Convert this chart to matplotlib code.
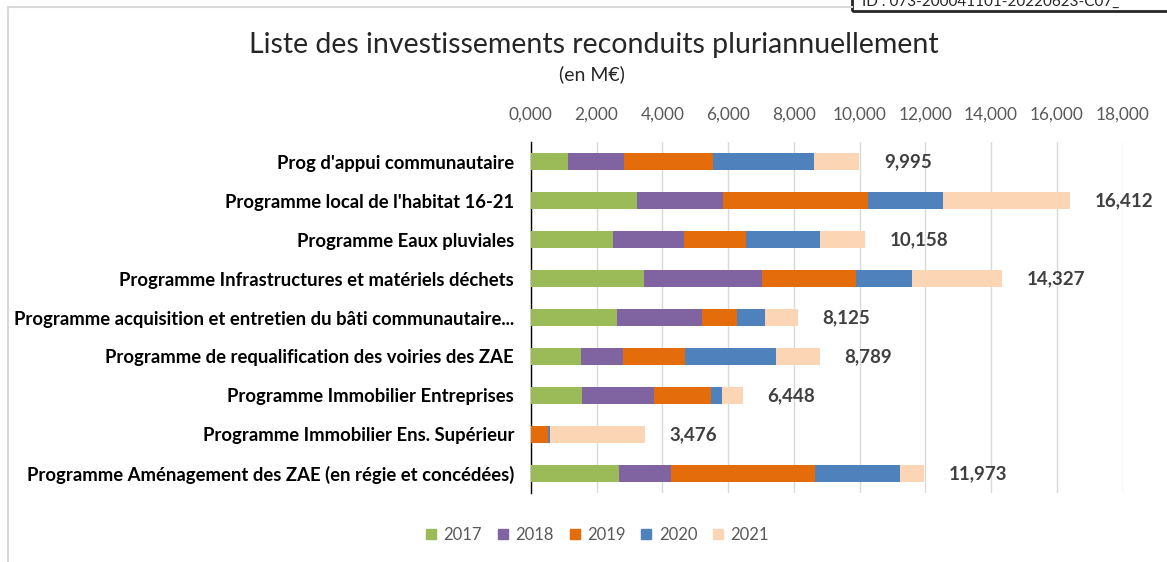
import numpy as np
import matplotlib.pyplot as plt
from matplotlib.lines import Line2D
from matplotlib.patches import Rectangle
from matplotlib.ticker import FuncFormatter

plt.rcParams['font.family'] = ['Lato', 'DejaVu Sans']

# Data (M€)
programmes = ["Prog d'appui communautaire",
              "Programme local de l'habitat 16-21",
              "Programme Eaux pluviales",
              "Programme Infrastructures et matériels déchets",
              "Programme acquisition et entretien du bâti communautaire...",
              "Programme de requalification des voiries des ZAE",
              "Programme Immobilier Entreprises",
              "Programme Immobilier Ens. Supérieur",
              "Programme Aménagement des ZAE (en régie et concédées)"]
years = ['2017', '2018', '2019', '2020', '2021']
v2017 = [1.130, 3.222, 2.500, 3.431, 2.617, 1.535, 1.570, 0.000, 2.687]
v2018 = [1.700, 2.640, 2.152, 3.617, 2.605, 1.256, 2.175, 0.000, 1.581]
v2019 = [2.700, 4.408, 1.884, 2.838, 1.047, 1.908, 1.733, 0.535, 4.373]
v2020 = [3.080, 2.280, 2.268, 1.697, 0.860, 2.756, 0.349, 0.047, 2.594]
v2021 = [1.385, 3.862, 1.354, 2.744, 0.996, 1.334, 0.621, 2.894, 0.738]
totals = [9.995, 16.412, 10.158, 14.327, 8.125, 8.789, 6.448, 3.476, 11.973]
colors = ['#9BBB59', '#8064A2', '#E46C0A', '#4F81BD', '#FCD5B5']

fig = plt.figure(figsize=(11.67, 5.62), dpi=100)
ax = fig.add_axes([0.4548, 0.1228, 0.5071, 0.6245])

ypos = np.arange(len(programmes))
left = np.zeros(len(programmes))
for year, vals, col in zip(years, [v2017, v2018, v2019, v2020, v2021], colors):
	ax.barh(ypos, vals, left=left, height=0.43, color=col, label=year, linewidth=0, zorder=3)
	left += np.array(vals)

for y, t in zip(ypos, totals):
	ax.text(t + 0.75, y, '{:.3f}'.format(t).replace('.', ','), va='center', ha='left',
	        fontsize=13.5, fontweight='bold', color='#404040', zorder=4)

ax.set_xlim(0, 18)
ax.set_ylim(len(programmes) - 0.5, -0.5)
ax.set_xticks(np.arange(0, 18.1, 2))
ax.xaxis.set_major_formatter(FuncFormatter(lambda v, p: '{:.3f}'.format(v).replace('.', ',')))
ax.xaxis.tick_top()
ax.tick_params(axis='x', length=0, labelsize=12.4, labelcolor='#595959', pad=14)
ax.set_yticks(ypos)
ax.set_yticklabels(programmes, fontsize=13.3, fontweight='bold', color='black')
ax.tick_params(axis='y', length=0, pad=12)
ax.grid(axis='x', color='#D9D9D9', linewidth=1, zorder=0)
for s in ['top', 'right', 'bottom']:
	ax.spines[s].set_visible(False)
ax.spines['left'].set_color('black')
ax.spines['left'].set_linewidth(1)

fig.text(0.509, 0.92, 'Liste des investissements reconduits pluriannuellement',
         ha='center', va='center', fontsize=20.5, color='#262626')
fig.text(0.507, 0.868, '(en M€)', ha='center', va='center', fontsize=14, color='#262626')

handles = [Rectangle((0, 0), 1, 1, color=c) for c in colors]
fig.legend(handles, years, loc='center', bbox_to_anchor=(0.512, 0.048), ncol=5, frameon=False,
           fontsize=12, labelcolor='#595959', handlelength=0.6, handleheight=0.6,
           handletextpad=0.45, columnspacing=0.95)

# Chart frame and cut-off stamp box
fig.add_artist(Line2D([8 / 1167, 8 / 1167], [0, 1 - 7 / 562], color='#D9D9D9', linewidth=1.5))
fig.add_artist(Line2D([8 / 1167, 852 / 1167], [1 - 7 / 562, 1 - 7 / 562], color='#D9D9D9', linewidth=1.5))
fig.add_artist(Rectangle((852 / 1167, 1 - 11 / 562), 330 / 1167, 20 / 562, fill=False,
                         edgecolor='#262626', linewidth=2))
fig.text(862 / 1167, 1 - 9 / 562, 'ID : 073-200041101-20220623-C07_', fontsize=11,
         color='#262626', va='bottom', ha='left')

plt.savefig('out.png', dpi=100)
